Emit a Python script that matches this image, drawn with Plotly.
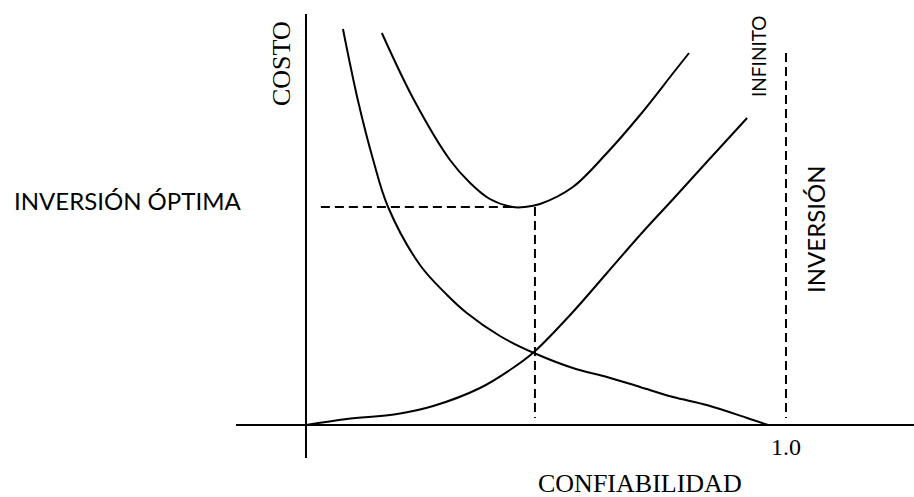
import plotly.graph_objects as go

# Reliability (confiabilidad, 0..1) and cost (arbitrary units) for each curve
fail_x = [0.077, 0.108, 0.140, 0.171, 0.2375, 0.294, 0.335, 0.404, 0.475, 0.556, 0.627, 0.696, 0.765, 0.835, 0.919, 0.9625]
fail_y = [3.96, 3.25, 2.65, 2.18, 1.60, 1.30, 1.12, 0.89, 0.72, 0.57, 0.48, 0.38, 0.28, 0.20, 0.07, 0.0]

inv_x = [0.0, 0.085, 0.19, 0.265, 0.3625, 0.431, 0.475, 0.556, 0.627, 0.696, 0.765, 0.835, 0.919]
inv_y = [0.0, 0.06, 0.11, 0.19, 0.37, 0.57, 0.73, 1.13, 1.52, 1.90, 2.26, 2.63, 3.07]

total_x = [0.158, 0.225, 0.30, 0.342, 0.383, 0.431, 0.456, 0.4875, 0.556, 0.627, 0.696, 0.765, 0.798]
total_y = [3.92, 3.25, 2.65, 2.42, 2.26, 2.18, 2.18, 2.21, 2.38, 2.72, 3.10, 3.52, 3.72]

# Optimum point and the "infinite investment" limit at reliability 1.0
opt_x = 0.477
opt_cost = 2.18
opt_left = 0.031
opt_min_x = 0.43
limit_x = 1.0
limit_top = 3.72
dash_bottom = 0.07

# Axis extents
x_axis = [-0.1458, 1.2667]
y_axis = [-0.33, 4.11]

tick_label = "1.0"

X_RANGE = [-0.6375, 1.2667]
Y_RANGE = [-0.72, 4.25]

fig = go.Figure()

curve = dict(color="black", width=2)
for xs, ys in [(fail_x, fail_y), (inv_x, inv_y), (total_x, total_y)]:
    fig.add_trace(go.Scatter(x=xs, y=ys, mode="lines", line=dict(shape="spline", smoothing=1.0, **curve),
                             hoverinfo="skip", showlegend=False))

# Axes
fig.add_shape(type="line", x0=x_axis[0], x1=x_axis[1], y0=0, y1=0, line=dict(color="black", width=2))
fig.add_shape(type="line", x0=0, x1=0, y0=y_axis[0], y1=y_axis[1], line=dict(color="black", width=2))

# Dashed guides
dash = dict(color="black", width=2, dash="9px,5px")
fig.add_shape(type="line", x0=opt_left, x1=opt_min_x, y0=opt_cost, y1=opt_cost, line=dash)
fig.add_shape(type="line", x0=opt_x, x1=opt_x, y0=opt_cost, y1=dash_bottom, line=dash)
fig.add_shape(type="line", x0=limit_x, x1=limit_x, y0=limit_top, y1=dash_bottom, line=dash)

serif = "Liberation Serif"
sans = "Lato"

def px_x(p):
    return (p - 306) / 480.0

def px_y(p):
    return (425 - p) / 100.0

ann = [
    dict(text="COSTO", x=px_x(281), y=px_y(64), textangle=-90, font=dict(family=serif, size=26)),
    dict(text="INFINITO", x=px_x(758), y=px_y(56), textangle=-90, font=dict(family=sans, size=19)),
    dict(text="INVERSIÓN", x=px_x(815), y=px_y(229), textangle=-90, font=dict(family=sans, size=24)),
    dict(text="INVERSIÓN ÓPTIMA", x=px_x(12), y=px_y(200), xanchor="left", font=dict(family=sans, size=24)),
    dict(text=tick_label, x=limit_x, y=px_y(447), font=dict(family=serif, size=24)),
    dict(text="CONFIABILIDAD", x=px_x(640), y=px_y(483), font=dict(family=serif, size=26)),
]
for a in ann:
    a["font"]["color"] = "black"
    fig.add_annotation(xref="x", yref="y", showarrow=False, **a)

fig.update_xaxes(visible=False, range=X_RANGE)
fig.update_yaxes(visible=False, range=Y_RANGE)
fig.update_layout(width=914, height=497, margin=dict(l=0, r=0, t=0, b=0),
                  plot_bgcolor="white", paper_bgcolor="white")

fig.write_html("out.html")
